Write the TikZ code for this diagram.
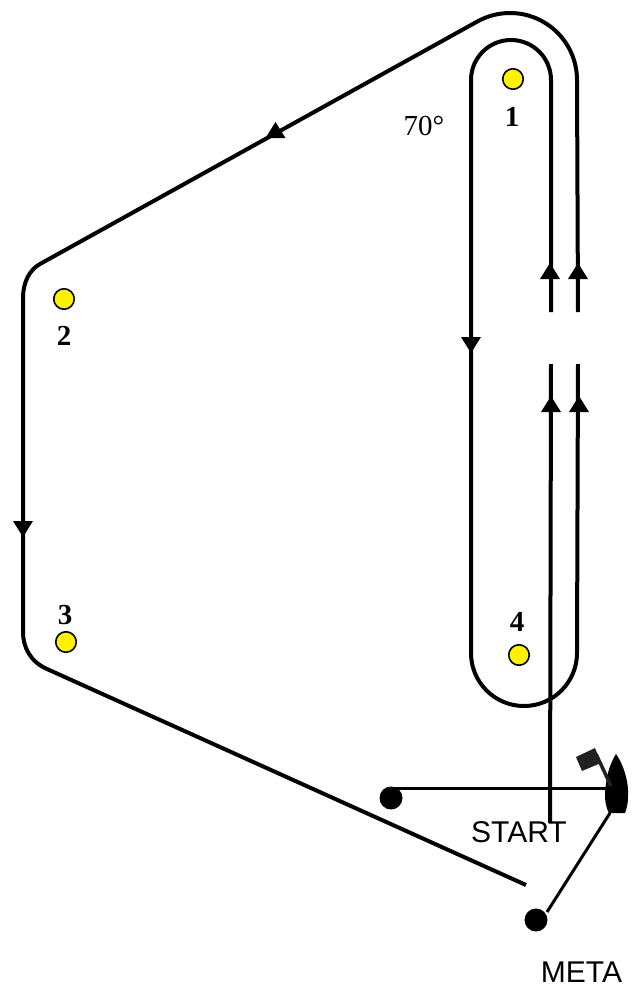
\documentclass[tikz,border=0pt]{standalone}
\usepackage{fontspec}
\setmainfont{Liberation Serif}
\newfontfamily\labelsans{Liberation Sans}
\tikzset{
  course/.style={line width=4pt,line cap=butt,line join=round},
  thinline/.style={line width=3pt},
  mark buoy/.style={circle,draw=black,line width=1.6pt,fill=yellow,minimum size=20.5pt,inner sep=0pt},
  gate buoy/.style={circle,fill=black,minimum size=23pt,inner sep=0pt},
  num/.style={font=\fontsize{29}{29}\selectfont\bfseries,inner sep=0pt},
  angle text/.style={font=\fontsize{29}{29}\selectfont,inner sep=0pt},
  sans text/.style={font=\labelsans\fontsize{30}{30}\selectfont,inner sep=0pt},
  tipfill/.style={fill=black,draw=none}
}
\newcommand{\coursetip}[3]{\fill[tipfill,shift={(#1,-#2)},rotate=#3] (8,0) -- (-8,10) -- (-8,-10) -- cycle;}
\begin{document}
\begin{tikzpicture}[x=1pt,y=1pt]
\useasboundingbox (0,-989) rectangle (632,0);
% marks
\node[mark buoy] (m1) at (513,-79) {};
\node[mark buoy] (m2) at (64,-299) {};
\node[mark buoy] (m3) at (66,-642) {};
\node[mark buoy] (m4) at (519,-655) {};
\node[num] (n1) at (512,-117) {1};
\node[num] (n2) at (64,-336) {2};
\node[num] (n3) at (65,-615) {3};
\node[num] (n4) at (517,-622) {4};
\node[angle text] (ang) at (424,-126) {70°};
\node[sans text] (start) at (519,-832) {START};
\node[sans text] (meta) at (581.5,-972.5) {META};
\node[gate buoy] (gs) at (391,-798) {};
\node[gate buoy] (gm) at (536,-920) {};
% boat
\coordinate (mastfoot) at (611,-786);
\coordinate (boatmid) at (607,-788);
\coordinate (boatlow) at (610,-813);
\fill[black] (616,-754) .. controls (622,-762) and (629,-780) .. (628,-796)
  .. controls (628,-803) and (627,-808) .. (625,-813) -- (609,-813)
  .. controls (605,-806) and (604,-795) .. (606,-784)
  .. controls (607,-773) and (611,-762) .. (616,-754) -- cycle;
\fill[black!87] (576,-757) -- (595,-748) -- (601,-763) -- (582,-771) -- cycle;
\draw[line width=3.5pt,black!87] (596,-754) -- (mastfoot);
% start and finish lines
\draw[thinline] (gs |- boatmid) -- (boatmid);
\draw[thinline] (gm) ++(11,8) -- (boatlow);
% course
\coordinate (outertop) at (578,-312);
\coordinate (outerlow) at (578,-364);
\coordinate (innertop) at (551,-312);
\coordinate (innerlow) at (551,-364);
\coordinate (startfoot) at (550,-823);
\coordinate (finish) at (526,-885);
\draw[course] (outertop) -- (577,-80)
  arc[start angle=0,end angle=119,radius=67]
  -- (40,-264)
  .. controls (29,-270) and (23,-283) .. (23,-298)
  -- (23,-632)
  .. controls (23,-648) and (31,-662) .. (47,-669)
  -- (finish);
\draw[course] (innertop) -- (551,-80)
  arc[start angle=0,end angle=180,radius=40]
  -- (471,-653)
  arc[start angle=180,end angle=360,radius=53]
  -- (outerlow);
\draw[course] (innerlow) -- (startfoot);
% arrowheads
\coursetip{550}{271}{90}
\coursetip{578}{271}{90}
\coursetip{551}{404}{90}
\coursetip{579}{404}{90}
\coursetip{471}{345}{-90}
\coursetip{23}{529}{-90}
\coursetip{275.5}{130}{90}
\end{tikzpicture}
\end{document}
